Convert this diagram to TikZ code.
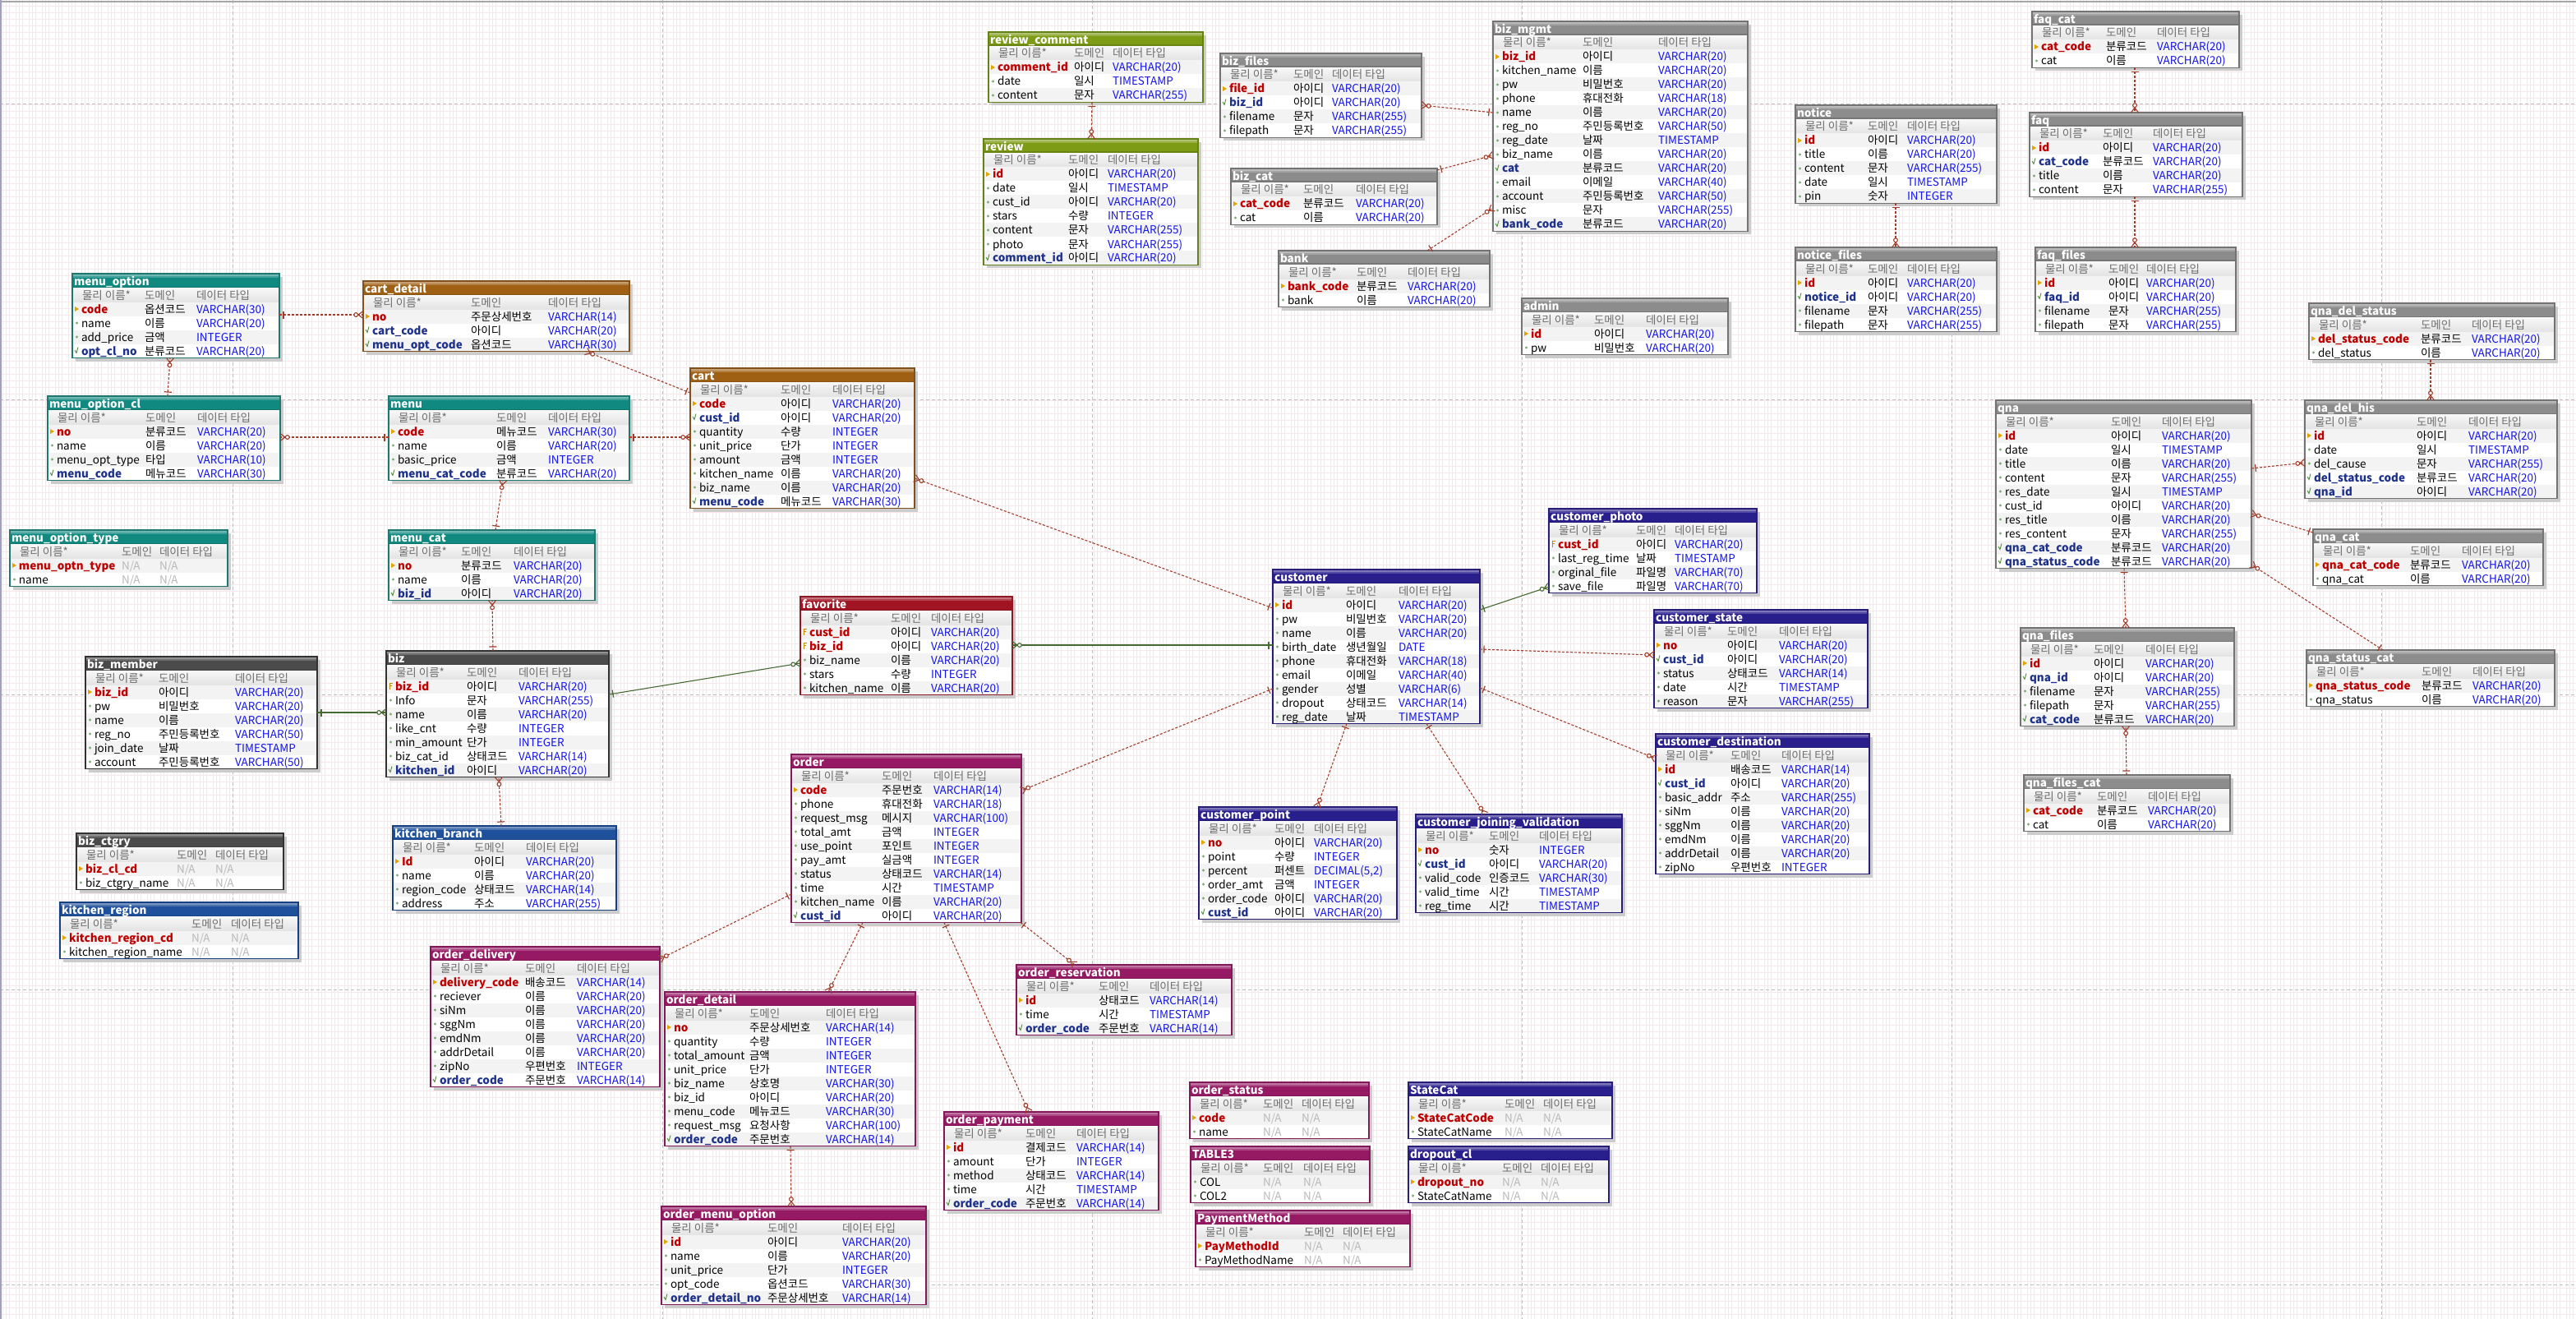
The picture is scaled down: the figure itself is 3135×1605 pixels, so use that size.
\documentclass[tikz,border=0pt]{standalone}
\usepackage{fontspec}
\setmainfont{Noto Sans CJK KR}
\usetikzlibrary{fit,decorations.markings}
\definecolor{pkred}{RGB}{190,0,0}
\definecolor{fkblue}{RGB}{30,50,140}
\definecolor{typeblue}{RGB}{20,20,235}
\definecolor{nagray}{RGB}{185,185,185}
\definecolor{hdrtext}{RGB}{110,110,110}
\definecolor{rowg}{RGB}{243,243,243}
\definecolor{keyy}{RGB}{225,165,0}
\definecolor{attrg}{RGB}{120,170,110}
\definecolor{fkchk}{RGB}{80,140,60}
\definecolor{relred}{RGB}{160,60,40}
\definecolor{relgreen}{RGB}{70,105,50}
\definecolor{gridc}{RGB}{248,231,234}
\definecolor{gridg}{RGB}{236,236,236}
\definecolor{pagec}{RGB}{190,190,190}
\definecolor{cTeal}{RGB}{16,138,128}\definecolor{cTealB}{RGB}{30,120,112}
\definecolor{cBrown}{RGB}{160,96,20}\definecolor{cBrownB}{RGB}{130,80,25}
\definecolor{cOlive}{RGB}{125,155,20}\definecolor{cOliveB}{RGB}{100,130,25}
\definecolor{cGray}{RGB}{140,140,140}\definecolor{cGrayB}{RGB}{115,115,115}
\definecolor{cDark}{RGB}{75,75,75}\definecolor{cDarkB}{RGB}{50,50,50}
\definecolor{cRed}{RGB}{160,20,35}\definecolor{cRedB}{RGB}{140,25,35}
\definecolor{cMag}{RGB}{150,25,100}\definecolor{cMagB}{RGB}{130,25,90}
\definecolor{cNavy}{RGB}{40,30,140}\definecolor{cNavyB}{RGB}{40,30,120}
\definecolor{cBlue}{RGB}{30,80,155}\definecolor{cBlueB}{RGB}{25,65,130}
\newcommand\erfont{\fontsize{13.5}{16}\selectfont}
\newcommand\NA{\textcolor{nagray}{N/A}}
\newcommand\nfp{\color{pkred}\bfseries}
\newcommand\nfq{\color{pkred}\bfseries}
\newcommand\nff{\color{fkblue}\bfseries}
\newcommand\nfa{\color{black}}
\newcommand\mkp[2]{\fill[keyy] (#1+3,#2+5.5) -- (#1+8,#2+8.5) -- (#1+3,#2+11.5) -- cycle;}
\newcommand\mka[2]{\fill[attrg] (#1+5.5,#2+8.5) circle (1.7pt);}
\newcommand\mkf[2]{\draw[fkchk, line width=0.9pt] (#1+3,#2+7.5) -- (#1+5,#2+11) -- (#1+7,#2+4);}
\newcommand\mkq[2]{\draw[keyy!85!black, line width=1pt] (#1+7.5,#2+4.5) -- (#1+4,#2+4.5) -- (#1+4,#2+12) (#1+4,#2+8) -- (#1+6.5,#2+8);}
\tikzset{
  cell/.style={anchor=base west, inner sep=0pt, outer sep=0pt, font=\erfont},
  hdr/.style={cell, text=hdrtext},
  ttl/.style={cell, text=white, font=\erfont\bfseries},
  rel/.style={line width=1.1pt, postaction={decorate, decoration={markings,
      mark=at position 0 with {\draw[solid, line width=1.2pt, draw=#1] (5pt,-4.5pt) -- (5pt,4.5pt);},
      mark=at position 1 with {\draw[solid, line width=1.1pt, draw=#1] (-6pt,0pt) -- (0pt,4.5pt) (-6pt,0pt) -- (0pt,-4.5pt);
        \draw[solid, line width=1.1pt, draw=#1, fill=white] (-8.8pt,0pt) circle (2.4pt);}}}},
  fkrel/.style={draw=relred, dash pattern=on 3pt off 2pt, rel=relred},
  idrel/.style={draw=relgreen, rel=relgreen},
  pagedash/.style={draw=pagec, line width=1pt, dash pattern=on 4pt off 3pt},
}
% #1 id, #2 title, #3 theme, #4 L, #5 T, #6 R, #7 x domain, #8 x type, #9 rows
\newcommand\ertab[9]{%
  \foreach \rx [count=\rc] in {#9}{\xdef\nrows{\rc}}%
  \pgfmathsetmacro\tabB{#5+34.5+17*\nrows}%
  \fill[black!20] (#4+4,#5+4) rectangle (#6+4,\tabB+4);%
  \fill[white] (#4,#5) rectangle (#6,\tabB);%
  \fill[#3] (#4,#5) rectangle (#6,#5+17.5);%
  \fill[#3!60!white] (#4,#5+1) rectangle (#6,#5+3);%
  \fill[#3!80!white] (#4,#5+3) rectangle (#6,#5+5);%
  \fill[#3!85!black] (#4,#5+15.5) rectangle (#6,#5+17.5);%
  \node[ttl, name=#1-title] at (#4+2,#5+14.5) {#2};%
  \shade[top color=white!97!black, bottom color=white!89!black] (#4,#5+17.5) rectangle (#6,#5+34.5);%
  \node[hdr, name=#1-h1] at (#4+12,#5+31) {물리 이름*};%
  \node[hdr, name=#1-h2] at (#7,#5+31) {도메인};%
  \node[hdr, name=#1-h3] at (#8,#5+31) {데이터 타입};%
  \foreach \rk/\rn/\rd/\rt [count=\ri] in {#9}{%
    \pgfmathsetmacro\yy{#5+34.5+17*(\ri-1)}%
    \ifodd\ri\relax\fill[rowg] (#4,\yy) rectangle (#6,\yy+17);\fi
    \csname mk\rk\endcsname{#4}{\yy}%
    \node[cell, name=#1-n\ri] at (#4+11,\yy+13.5) {\csname nf\rk\endcsname\rn};%
    \node[cell, name=#1-d\ri] at (#7,\yy+13.5) {\rd};%
    \node[cell, text=typeblue, name=#1-t\ri] at (#8,\yy+13.5) {\rt};%
  }%
  \node[fit={(#4,#5) (#6,\tabB)}, inner sep=0pt, outer sep=0pt, draw=#3B, line width=1.3pt, name=#1] {};%
}
\catcode`\_=12
\begin{document}
\begin{tikzpicture}[x=1pt, y=-1pt]
\useasboundingbox (0,0) rectangle (3135,1605);
\fill[white] (0,0) rectangle (3135,1605);
\draw[gridg, line width=0.5pt] \foreach \gx in {3,11,...,3131} {(\gx,0) -- (\gx,1605)};
\draw[gridc, line width=0.6pt] \foreach \gy in {7,15,...,1599} {(0,\gy) -- (3135,\gy)};
\draw[gridc, line width=0.6pt] \foreach \gx in {7,23,...,3131} {(\gx,0) -- (\gx,1605)};
\draw[pagedash] \foreach \px in {283,806,1329,1852,2375,2898} {(\px,0) -- (\px,1605)};
\draw[pagedash] \foreach \py in {127,486,845,1204,1563} {(0,\py) -- (3135,\py)};
\draw[black!35, line width=1.5pt] (0,2) -- (3135,2);
\draw[blue!25!gray!60, line width=1.5pt] (1,0) -- (1,1605);

\ertab{menu_option}{menu_option}{cTeal}{88}{333}{340}{176}{239}{p/code/옵션코드/VARCHAR(30), a/name/이름/VARCHAR(20), a/add_price/금액/INTEGER, f/opt_cl_no/분류코드/VARCHAR(20)}
\ertab{cart_detail}{cart_detail}{cBrown}{442}{342}{766}{573}{667}{p/no/주문상세번호/VARCHAR(14), f/cart_code/아이디/VARCHAR(20), f/menu_opt_code/옵션코드/VARCHAR(30)}
\ertab{menu_option_cl}{menu_option_cl}{cTeal}{58}{482}{341}{177}{240}{p/no/분류코드/VARCHAR(20), a/name/이름/VARCHAR(20), a/menu_opt_type/타입/VARCHAR(10), f/menu_code/메뉴코드/VARCHAR(30)}
\ertab{menu}{menu}{cTeal}{473}{482}{766}{604}{667}{p/code/메뉴코드/VARCHAR(30), a/name/이름/VARCHAR(20), a/basic_price/금액/INTEGER, f/menu_cat_code/분류코드/VARCHAR(20)}
\ertab{review_comment}{review_comment}{cOlive}{1203}{39}{1464}{1307}{1354}{p/comment_id/아이디/VARCHAR(20), a/date/일시/TIMESTAMP, a/content/문자/VARCHAR(255)}
\ertab{review}{review}{cOlive}{1197}{169}{1458}{1300}{1348}{p/id/아이디/VARCHAR(20), a/date/일시/TIMESTAMP, a/cust_id/아이디/VARCHAR(20), a/stars/수량/INTEGER, a/content/문자/VARCHAR(255), a/photo/문자/VARCHAR(255), f/comment_id/아이디/VARCHAR(20)}
\ertab{biz_files}{biz_files}{cGray}{1485}{65}{1730}{1574}{1621}{p/file_id/아이디/VARCHAR(20), f/biz_id/아이디/VARCHAR(20), a/filename/문자/VARCHAR(255), a/filepath/문자/VARCHAR(255)}
\ertab{biz_cat}{biz_cat}{cGray}{1498}{205}{1749}{1586}{1650}{p/cat_code/분류코드/VARCHAR(20), a/cat/이름/VARCHAR(20)}
\ertab{bank}{bank}{cGray}{1556}{305}{1813}{1651}{1713}{p/bank_code/분류코드/VARCHAR(20), a/bank/이름/VARCHAR(20)}
\ertab{cart}{cart}{cBrown}{840}{448}{1113}{950}{1013}{p/code/아이디/VARCHAR(20), f/cust_id/아이디/VARCHAR(20), a/quantity/수량/INTEGER, a/unit_price/단가/INTEGER, a/amount/금액/INTEGER, a/kitchen_name/이름/VARCHAR(20), a/biz_name/이름/VARCHAR(20), f/menu_code/메뉴코드/VARCHAR(30)}
\ertab{biz_mgmt}{biz_mgmt}{cGray}{1817}{26}{2127}{1926}{2018}{p/biz_id/아이디/VARCHAR(20), a/kitchen_name/이름/VARCHAR(20), a/pw/비밀번호/VARCHAR(20), a/phone/휴대전화/VARCHAR(18), a/name/이름/VARCHAR(20), a/reg_no/주민등록번호/VARCHAR(50), a/reg_date/날짜/TIMESTAMP, a/biz_name/이름/VARCHAR(20), f/cat/분류코드/VARCHAR(20), a/email/이메일/VARCHAR(40), a/account/주민등록번호/VARCHAR(50), a/misc/문자/VARCHAR(255), f/bank_code/분류코드/VARCHAR(20)}
\ertab{admin}{admin}{cGray}{1852}{363}{2103}{1940}{2003}{p/id/아이디/VARCHAR(20), a/pw/비밀번호/VARCHAR(20)}
\ertab{notice}{notice}{cGray}{2185}{128}{2430}{2273}{2321}{p/id/아이디/VARCHAR(20), a/title/이름/VARCHAR(20), a/content/문자/VARCHAR(255), a/date/일시/TIMESTAMP, a/pin/숫자/INTEGER}
\ertab{notice_files}{notice_files}{cGray}{2185}{301}{2430}{2273}{2321}{p/id/아이디/VARCHAR(20), f/notice_id/아이디/VARCHAR(20), a/filename/문자/VARCHAR(255), a/filepath/문자/VARCHAR(255)}
\ertab{faq_cat}{faq_cat}{cGray}{2473}{14}{2725}{2563}{2625}{p/cat_code/분류코드/VARCHAR(20), a/cat/이름/VARCHAR(20)}
\ertab{faq}{faq}{cGray}{2470}{137}{2729}{2559}{2620}{p/id/아이디/VARCHAR(20), f/cat_code/분류코드/VARCHAR(20), a/title/이름/VARCHAR(20), a/content/문자/VARCHAR(255)}
\ertab{faq_files}{faq_files}{cGray}{2477}{301}{2721}{2566}{2612}{p/id/아이디/VARCHAR(20), f/faq_id/아이디/VARCHAR(20), a/filename/문자/VARCHAR(255), a/filepath/문자/VARCHAR(255)}
\ertab{qna_del_status}{qna_del_status}{cGray}{2810}{369}{3109}{2946}{3008}{p/del_status_code/분류코드/VARCHAR(20), a/del_status/이름/VARCHAR(20)}
\ertab{qna}{qna}{cGray}{2429}{487}{2740}{2569}{2631}{p/id/아이디/VARCHAR(20), a/date/일시/TIMESTAMP, a/title/이름/VARCHAR(20), a/content/문자/VARCHAR(255), a/res_date/일시/TIMESTAMP, a/cust_id/아이디/VARCHAR(20), a/res_title/이름/VARCHAR(20), a/res_content/문자/VARCHAR(255), f/qna_cat_code/분류코드/VARCHAR(20), f/qna_status_code/분류코드/VARCHAR(20)}
\ertab{qna_del_his}{qna_del_his}{cGray}{2805}{487}{3112}{2941}{3004}{p/id/아이디/VARCHAR(20), a/date/일시/TIMESTAMP, a/del_cause/문자/VARCHAR(255), f/del_status_code/분류코드/VARCHAR(20), f/qna_id/아이디/VARCHAR(20)}
\ertab{menu_option_type}{menu_option_type}{cTeal}{12}{645}{277}{148}{194}{p/menu_optn_type/\NA/\NA, a/name/\NA/\NA}
\ertab{menu_cat}{menu_cat}{cTeal}{473}{645}{724}{561}{625}{p/no/분류코드/VARCHAR(20), a/name/이름/VARCHAR(20), f/biz_id/아이디/VARCHAR(20)}
\ertab{biz_member}{biz_member}{cDark}{104}{799}{386}{193}{286}{p/biz_id/아이디/VARCHAR(20), a/pw/비밀번호/VARCHAR(20), a/name/이름/VARCHAR(20), a/reg_no/주민등록번호/VARCHAR(50), a/join_date/날짜/TIMESTAMP, a/account/주민등록번호/VARCHAR(50)}
\ertab{biz}{biz}{cDark}{470}{792}{741}{568}{631}{q/biz_id/아이디/VARCHAR(20), a/Info/문자/VARCHAR(255), a/name/이름/VARCHAR(20), a/like_cnt/수량/INTEGER, a/min_amount/단가/INTEGER, a/biz_cat_id/상태코드/VARCHAR(14), f/kitchen_id/아이디/VARCHAR(20)}
\ertab{kitchen_branch}{kitchen_branch}{cBlue}{478}{1005}{750}{577}{640}{p/Id/아이디/VARCHAR(20), a/name/이름/VARCHAR(20), a/region_code/상태코드/VARCHAR(14), a/address/주소/VARCHAR(255)}
\ertab{biz_ctgry}{biz_ctgry}{cDark}{93}{1014}{345}{215}{262}{p/biz_cl_cd/\NA/\NA, a/biz_ctgry_name/\NA/\NA}
\ertab{kitchen_region}{kitchen_region}{cBlue}{73}{1098}{363}{233}{281}{p/kitchen_region_cd/\NA/\NA, a/kitchen_region_name/\NA/\NA}
\ertab{order_delivery}{order_delivery}{cMag}{524}{1152}{803}{639}{702}{p/delivery_code/배송코드/VARCHAR(14), a/reciever/이름/VARCHAR(20), a/siNm/이름/VARCHAR(20), a/sggNm/이름/VARCHAR(20), a/emdNm/이름/VARCHAR(20), a/addrDetail/이름/VARCHAR(20), a/zipNo/우편번호/INTEGER, f/order_code/주문번호/VARCHAR(14)}
\ertab{favorite}{favorite}{cRed}{974}{726}{1232}{1084}{1133}{q/cust_id/아이디/VARCHAR(20), q/biz_id/아이디/VARCHAR(20), a/biz_name/이름/VARCHAR(20), a/stars/수량/INTEGER, a/kitchen_name/이름/VARCHAR(20)}
\ertab{order}{order}{cMag}{963}{918}{1243}{1073}{1136}{p/code/주문번호/VARCHAR(14), a/phone/휴대전화/VARCHAR(18), a/request_msg/메시지/VARCHAR(100), a/total_amt/금액/INTEGER, a/use_point/포인트/INTEGER, a/pay_amt/실금액/INTEGER, a/status/상태코드/VARCHAR(14), a/time/시간/TIMESTAMP, a/kitchen_name/이름/VARCHAR(20), f/cust_id/아이디/VARCHAR(20)}
\ertab{customer}{customer}{cNavy}{1549}{693}{1801}{1638}{1702}{p/id/아이디/VARCHAR(20), a/pw/비밀번호/VARCHAR(20), a/name/이름/VARCHAR(20), a/birth_date/생년월일/DATE, a/phone/휴대전화/VARCHAR(18), a/email/이메일/VARCHAR(40), a/gender/성별/VARCHAR(6), a/dropout/상태코드/VARCHAR(14), a/reg_date/날짜/TIMESTAMP}
\ertab{customer_point}{customer_point}{cNavy}{1459}{982}{1700}{1551}{1599}{p/no/아이디/VARCHAR(20), a/point/수량/INTEGER, a/percent/퍼센트/{DECIMAL(5,2)}, a/order_amt/금액/INTEGER, a/order_code/아이디/VARCHAR(20), f/cust_id/아이디/VARCHAR(20)}
\ertab{customer_photo}{customer_photo}{cNavy}{1885}{619}{2138}{1991}{2038}{q/cust_id/아이디/VARCHAR(20), a/last_reg_time/날짜/TIMESTAMP, a/orginal_file/파일명/VARCHAR(70), a/save_file/파일명/VARCHAR(70)}
\ertab{customer_state}{customer_state}{cNavy}{2013}{742}{2273}{2102}{2165}{p/no/아이디/VARCHAR(20), f/cust_id/아이디/VARCHAR(20), a/status/상태코드/VARCHAR(14), a/date/시간/TIMESTAMP, a/reason/문자/VARCHAR(255)}
\ertab{customer_destination}{customer_destination}{cNavy}{2015}{893}{2275}{2106}{2168}{p/id/배송코드/VARCHAR(14), f/cust_id/아이디/VARCHAR(20), a/basic_addr/주소/VARCHAR(255), a/siNm/이름/VARCHAR(20), a/sggNm/이름/VARCHAR(20), a/emdNm/이름/VARCHAR(20), a/addrDetail/이름/VARCHAR(20), a/zipNo/우편번호/INTEGER}
\ertab{customer_joining_validation}{customer_joining_validation}{cNavy}{1723}{991}{1974}{1812}{1873}{p/no/숫자/INTEGER, f/cust_id/아이디/VARCHAR(20), a/valid_code/인증코드/VARCHAR(30), a/valid_time/시간/TIMESTAMP, a/reg_time/시간/TIMESTAMP}
\ertab{qna_cat}{qna_cat}{cGray}{2815}{644}{3095}{2933}{2996}{p/qna_cat_code/분류코드/VARCHAR(20), a/qna_cat/이름/VARCHAR(20)}
\ertab{qna_status_cat}{qna_status_cat}{cGray}{2807}{791}{3109}{2947}{3009}{p/qna_status_code/분류코드/VARCHAR(20), a/qna_status/이름/VARCHAR(20)}
\ertab{qna_files}{qna_files}{cGray}{2459}{764}{2719}{2548}{2611}{p/id/아이디/VARCHAR(20), f/qna_id/아이디/VARCHAR(20), a/filename/문자/VARCHAR(255), a/filepath/문자/VARCHAR(255), f/cat_code/분류코드/VARCHAR(20)}
\ertab{qna_files_cat}{qna_files_cat}{cGray}{2463}{943}{2714}{2552}{2614}{p/cat_code/분류코드/VARCHAR(20), a/cat/이름/VARCHAR(20)}
\ertab{order_detail}{order_detail}{cMag}{809}{1207}{1114}{912}{1005}{p/no/주문상세번호/VARCHAR(14), a/quantity/수량/INTEGER, a/total_amount/금액/INTEGER, a/unit_price/단가/INTEGER, a/biz_name/상호명/VARCHAR(30), a/biz_id/아이디/VARCHAR(20), a/menu_code/메뉴코드/VARCHAR(30), a/request_msg/요청사항/VARCHAR(100), f/order_code/주문번호/VARCHAR(14)}
\ertab{order_reservation}{order_reservation}{cMag}{1237}{1174}{1499}{1337}{1399}{p/id/상태코드/VARCHAR(14), a/time/시간/TIMESTAMP, f/order_code/주문번호/VARCHAR(14)}
\ertab{order_payment}{order_payment}{cMag}{1149}{1353}{1410}{1248}{1310}{p/id/결제코드/VARCHAR(14), a/amount/단가/INTEGER, a/method/상태코드/VARCHAR(14), a/time/시간/TIMESTAMP, f/order_code/주문번호/VARCHAR(14)}
\ertab{order_menu_option}{order_menu_option}{cMag}{805}{1468}{1127}{934}{1025}{p/id/아이디/VARCHAR(20), a/name/이름/VARCHAR(20), a/unit_price/단가/INTEGER, a/opt_code/옵션코드/VARCHAR(30), f/order_detail_no/주문상세번호/VARCHAR(14)}
\ertab{order_status}{order_status}{cMag}{1448}{1317}{1666}{1537}{1584}{p/code/\NA/\NA, a/name/\NA/\NA}
\ertab{TABLE3}{TABLE3}{cMag}{1449}{1395}{1667}{1537}{1586}{a/COL/\NA/\NA, a/COL2/\NA/\NA}
\ertab{PaymentMethod}{PaymentMethod}{cMag}{1455}{1473}{1716}{1587}{1634}{p/PayMethodId/\NA/\NA, a/PayMethodName/\NA/\NA}
\ertab{StateCat}{StateCat}{cNavy}{1714}{1317}{1962}{1831}{1878}{p/StateCatCode/\NA/\NA, a/StateCatName/\NA/\NA}
\ertab{dropout_cl}{dropout_cl}{cNavy}{1714}{1395}{1958}{1828}{1875}{p/dropout_no/\NA/\NA, a/StateCatName/\NA/\NA}

% relationships: from the "one" side to the "many" side
\draw[fkrel] (menu_option.east |- 0,383) -- (cart_detail.west |- 0,383);
\draw[fkrel] (cart.west |- 0,478) -- (cart_detail.south -| 713,0);
\draw[fkrel] (menu_option_cl.north -| 204,0) -- (menu_option.south -| 207,0);
\draw[fkrel] (menu.west |- 0,532) -- (menu_option_cl.east |- 0,532);
\draw[fkrel] (menu.east |- 0,532) -- (cart.west |- 0,532);
\draw[fkrel] (review_comment.south -| 1329,0) -- (review.north -| 1328,0);
\draw[fkrel] (biz_mgmt.west |- 0,137) -- (biz_files.east |- 0,128);
\draw[fkrel] (biz_cat.east |- 0,207) -- (biz_mgmt.west |- 0,189);
\draw[fkrel] (bank.north -| 1737,0) -- (biz_mgmt.west |- 0,253);
\draw[fkrel] (notice.south -| 2307,0) -- (notice_files.north -| 2307,0);
\draw[fkrel] (faq_cat.south -| 2598,0) -- (faq.north -| 2598,0);
\draw[fkrel] (faq.south -| 2598,0) -- (faq_files.north -| 2598,0);
\draw[fkrel] (qna_del_status.south -| 2958,0) -- (qna_del_his.north -| 2958,0);
\draw[fkrel] (menu_cat.north -| 603,0) -- (menu.south -| 612,0);
\draw[fkrel] (biz.north -| 600,0) -- (menu_cat.south -| 599,0);
\draw[idrel] (biz_member.east |- 0,867) -- (biz.west |- 0,867);
\draw[idrel] (biz.east |- 0,845) -- (favorite.west |- 0,807);
\draw[fkrel] (kitchen_branch.north -| 610,0) -- (biz.south -| 607,0);
\draw[idrel] (customer.west |- 0,785) -- (favorite.east |- 0,785);
\draw[fkrel] (customer.west |- 0,740) -- (cart.east |- 0,582);
\draw[fkrel] (customer.west |- 0,838) -- (order.east |- 0,962);
\draw[idrel] (customer.east |- 0,742) -- (customer_photo.west |- 0,714);
\draw[fkrel] (customer.east |- 0,790) -- (customer_state.west |- 0,797);
\draw[fkrel] (customer.east |- 0,837) -- (customer_destination.west |- 0,923);
\draw[fkrel] (customer.south -| 1639,0) -- (customer_point.north -| 1603,0);
\draw[fkrel] (customer.south -| 1736,0) -- (customer_joining_validation.north -| 1807,0);
\draw[fkrel] (qna.east |- 0,570) -- (qna_del_his.west |- 0,563);
\draw[fkrel] (qna_cat.west |- 0,648) -- (qna.east |- 0,625);
\draw[fkrel] (qna_status_cat.north -| 2900,0) -- (qna.east |- 0,687);
\draw[fkrel] (qna.south -| 2585,0) -- (qna_files.north -| 2587,0);
\draw[fkrel] (qna_files_cat.north -| 2588,0) -- (qna_files.south -| 2587,0);
\draw[fkrel] (order.west |- 0,1088) -- (order_delivery.east |- 0,1167);
\draw[fkrel] (order.south -| 1050,0) -- (order_detail.north -| 1008,0);
\draw[fkrel] (order.south -| 1149,0) -- (order_payment.north -| 1252,0);
\draw[fkrel] (order.south -| 1242,0) -- (order_reservation.north -| 1308,0);
\draw[fkrel] (order_detail.south -| 962,0) -- (order_menu_option.north -| 963,0);
\end{tikzpicture}
\end{document}
